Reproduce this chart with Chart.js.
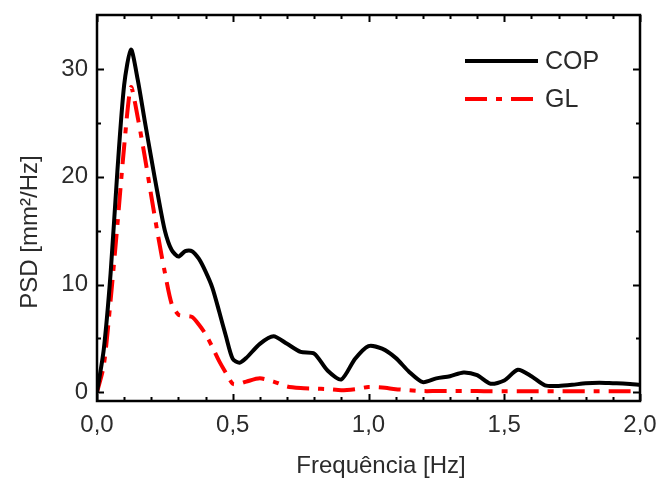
<!DOCTYPE html>
<html>
<head>
<meta charset="utf-8">
<script src="https://cdn.jsdelivr.net/npm/chart.js@4.4.0/dist/chart.umd.min.js"></script>
<style>
body { margin: 0; background: #fff; }
</style>
</head>
<body>
<canvas id="psdChart" width="661" height="484"></canvas>
<script>
// frequency (Hz) and PSD values
var freq = [0, 0.025, 0.05, 0.075, 0.1, 0.125, 0.15, 0.175, 0.2, 0.225, 0.25, 0.275, 0.3, 0.325, 0.35, 0.375, 0.4, 0.425, 0.45, 0.475, 0.5, 0.525, 0.55, 0.6, 0.65, 0.7, 0.75, 0.8, 0.85, 0.9, 0.95, 1.0, 1.05, 1.1, 1.15, 1.2, 1.25, 1.3, 1.35, 1.4, 1.45, 1.5, 1.55, 1.6, 1.65, 1.7, 1.75, 1.8, 1.85, 1.9, 1.95, 2.0];
var copValues = [0, 4.0, 11.0, 20.5, 28.5, 31.8, 29.0, 25.3, 21.7, 18.2, 15.0, 13.2, 12.6, 13.1, 13.1, 12.4, 11.2, 9.7, 7.5, 5.2, 3.1, 2.75, 3.2, 4.5, 5.2, 4.5, 3.75, 3.6, 2.0, 1.2, 3.1, 4.3, 4.05, 3.2, 1.9, 0.95, 1.3, 1.5, 1.85, 1.6, 0.8, 1.1, 2.1, 1.5, 0.65, 0.6, 0.7, 0.85, 0.9, 0.85, 0.8, 0.7];
var glValues = [0, 2.5, 8.5, 15.5, 22.8, 28.3, 25.5, 22.0, 18.2, 14.5, 11.1, 8.2, 7.2, 7.1, 7.0, 6.3, 5.4, 4.2, 2.9, 1.8, 0.8, 0.8, 1.0, 1.3, 1.0, 0.55, 0.4, 0.35, 0.3, 0.2, 0.3, 0.5, 0.45, 0.3, 0.2, 0.12, 0.12, 0.12, 0.12, 0.12, 0.1, 0.1, 0.1, 0.1, 0.1, 0.1, 0.1, 0.1, 0.1, 0.1, 0.1, 0.1];

var xTicks = [0, 0.5, 1, 1.5, 2];
var xMinorTicks = [0.1, 0.2, 0.3, 0.4, 0.6, 0.7, 0.8, 0.9, 1.1, 1.2, 1.3, 1.4, 1.6, 1.7, 1.8, 1.9];
var yTicks = [0, 10, 20, 30];
var yMinorTicks = [5, 15, 25];

var fontFamily = "'Liberation Sans', Arial, sans-serif";
var textColor = "#2b2b2b";

function points(xs, ys) {
    return xs.map(function (x, i) { return {x: x, y: ys[i]}; });
}

// frame, inward ticks, legend and axis titles
var framePlugin = {
    id: "framePlugin",
    afterDraw: function (chart) {
        var ctx = chart.ctx;
        var a = chart.chartArea;
        var xs = chart.scales.x;
        var ys = chart.scales.y;
        ctx.save();
        ctx.strokeStyle = "#000";
        ctx.lineWidth = 2;
        ctx.setLineDash([]);

        function xTick(v, len) {
            var p = Math.round(xs.getPixelForValue(v)) + 0.5;
            ctx.beginPath();
            ctx.moveTo(p, a.bottom); ctx.lineTo(p, a.bottom - len);
            ctx.moveTo(p, a.top); ctx.lineTo(p, a.top + len);
            ctx.stroke();
        }
        function yTick(v, len) {
            var p = Math.round(ys.getPixelForValue(v)) + 0.5;
            ctx.beginPath();
            ctx.moveTo(a.left, p); ctx.lineTo(a.left + len, p);
            ctx.moveTo(a.right, p); ctx.lineTo(a.right - len, p);
            ctx.stroke();
        }
        xTicks.forEach(function (v) { xTick(v, 7); });
        xMinorTicks.forEach(function (v) { xTick(v, 4); });
        yTicks.forEach(function (v) { yTick(v, 7); });
        yMinorTicks.forEach(function (v) { yTick(v, 4); });

        ctx.lineWidth = 2.5;
        ctx.strokeRect(a.left, a.top, a.right - a.left, a.bottom - a.top);

        // legend
        var legendRows = [{y: 61, x2: 538}, {y: 99, x2: 535}];
        chart.data.datasets.forEach(function (ds, i) {
            var row = legendRows[i];
            ctx.strokeStyle = ds.borderColor;
            ctx.lineWidth = ds.borderWidth;
            ctx.setLineDash(ds.borderDash || []);
            ctx.beginPath();
            ctx.moveTo(465, row.y);
            ctx.lineTo(row.x2, row.y);
            ctx.stroke();
            ctx.setLineDash([]);
            ctx.fillStyle = textColor;
            ctx.font = "25px " + fontFamily;
            ctx.textBaseline = "middle";
            ctx.textAlign = "left";
            ctx.fillText(ds.label, 545, row.y + 1);
        });

        // axis titles
        ctx.fillStyle = textColor;
        ctx.font = "24px " + fontFamily;
        ctx.textAlign = "center";
        ctx.textBaseline = "middle";
        ctx.fillText("Frequência [Hz]", 381, 466);
        ctx.translate(30, 232);
        ctx.rotate(-Math.PI / 2);
        ctx.fillText("PSD [mm²/Hz]", 0, 0);
        ctx.restore();
    }
};

new Chart("psdChart", {
    type: "line",
    data: {
        datasets: [{
            label: "COP",
            data: points(freq, copValues),
            borderColor: "#000000",
            borderWidth: 4,
            pointRadius: 0,
            tension: 0.25,
            fill: false
        }, {
            label: "GL",
            data: points(freq, glValues),
            borderColor: "#ff0000",
            borderWidth: 4,
            borderDash: [22, 9, 6, 9],
            pointRadius: 0,
            tension: 0.25,
            fill: false
        }]
    },
    options: {
        responsive: false,
        animation: false,
        devicePixelRatio: 1,
        layout: {padding: {top: 15, right: 21, left: 0, bottom: 0}},
        plugins: {
            legend: {display: false},
            tooltip: {enabled: false}
        },
        scales: {
            x: {
                type: "linear",
                min: 0,
                max: 2,
                grid: {display: false, drawTicks: false},
                border: {display: false},
                afterBuildTicks: function (scale) {
                    scale.ticks = xTicks.map(function (v) { return {value: v}; });
                },
                afterFit: function (scale) {
                    scale.height = 83;
                    scale.paddingLeft = 0;
                    scale.paddingRight = 0;
                },
                ticks: {
                    padding: 10,
                    color: textColor,
                    font: {family: fontFamily, size: 24},
                    maxRotation: 0,
                    callback: function (v) { return v.toFixed(1).replace(".", ","); }
                }
            },
            y: {
                type: "linear",
                min: -0.8,
                max: 35,
                grid: {display: false, drawTicks: false},
                border: {display: false},
                afterBuildTicks: function (scale) {
                    scale.ticks = yTicks.map(function (v) { return {value: v}; });
                },
                afterFit: function (scale) {
                    scale.width = 97;
                    scale.paddingTop = 0;
                    scale.paddingBottom = 0;
                },
                ticks: {
                    padding: 9,
                    color: textColor,
                    font: {family: fontFamily, size: 24},
                    callback: function (v) { return String(v); }
                }
            }
        }
    },
    plugins: [framePlugin]
});
</script>
</body>
</html>
